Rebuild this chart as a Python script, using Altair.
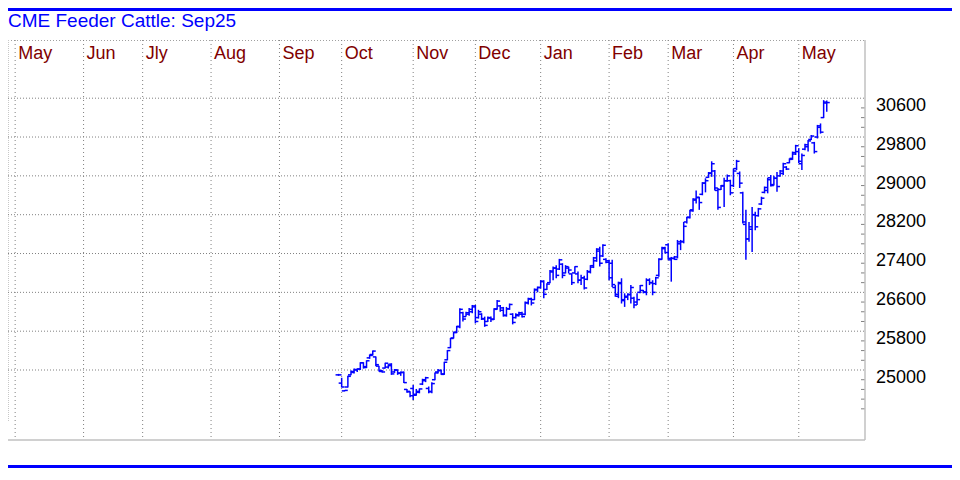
import altair as alt
import pandas as pd

# ---------------- data ----------------
title_text = "CME Feeder Cattle: Sep25"
month_names = ["May", "Jun", "Jly", "Aug", "Sep", "Oct", "Nov", "Dec", "Jan", "Feb", "Mar", "Apr", "May"]
month_start = [0, 22, 41, 63, 85, 105, 128, 148, 169, 191, 210, 231, 252]   # trading-day index
price_levels = [25000, 25800, 26600, 27400, 28200, 29000, 29800, 30600]
minor_levels = [24200, 24400, 24600, 24800, 25200, 25400, 25600, 26000, 26200, 26400,
                26800, 27000, 27200, 27600, 27800, 28000, 28400, 28600, 28800, 29200,
                29400, 29600, 30000, 30200, 30400]
first_day = 104

bar_high = [
    24920, 24840, 24590, 24880, 24990, 25030, 25030, 25160, 25160, 25200,
    25320, 25400, 25280, 25090, 25000, 25150, 25120, 25140, 25020, 25010,
    24970, 24970, 24610, 24560, 24690, 24610, 24620, 24820, 24860, 24660,
    24750, 24950, 25020, 25010, 25170, 25410, 25660, 25790, 25910, 26270,
    26200, 26200, 26280, 26340, 26340, 26240, 26170, 26100, 26100, 26100,
    26270, 26440, 26340, 26300, 26300, 26370, 26170, 26170, 26200, 26200,
    26410, 26490, 26490, 26680, 26720, 26850, 26850, 26790, 27060, 27130,
    27160, 27290, 27200, 27160, 27130, 26990, 27140, 27030, 26960, 26940,
    27060, 27160, 27330, 27510, 27540, 27590, 27300, 27270, 27270, 26750,
    26820, 26890, 26580, 26580, 26750, 26510, 26580, 26750, 26650, 26890,
    26890, 26850, 26920, 27300, 27540, 27540, 27610, 27330, 27350, 27680,
    27680, 28050, 28160, 28300, 28540, 28700, 28570, 28870, 28950, 29080,
    29300, 29120, 28750, 28810, 28960, 29030, 28920, 29150, 29330, 29090,
    28670, 28300, 28050, 28360, 28260, 28340, 28570, 28780, 28960, 29020,
    29000, 29080, 29120, 29270, 29200, 29360, 29500, 29640, 29570, 29460,
    29660, 29740, 29840, 29700, 30050, 30080, 30560, 30550,
]
bar_low = [
    24880, 24640, 24560, 24640, 24890, 24930, 24960, 25000, 25030, 25040,
    25230, 25300, 25080, 24970, 24950, 25030, 25030, 24900, 24940, 24900,
    24880, 24730, 24530, 24440, 24380, 24470, 24520, 24690, 24750, 24520,
    24520, 24790, 24930, 24900, 24900, 25200, 25450, 25650, 25760, 25860,
    26000, 26100, 26120, 26170, 25960, 26060, 26030, 25890, 25990, 25990,
    26030, 26240, 26200, 26100, 26100, 26240, 25940, 26060, 26100, 26080,
    26130, 26350, 26330, 26440, 26600, 26680, 26480, 26650, 26790, 26850,
    26890, 27060, 26890, 26990, 26990, 26750, 26990, 26790, 26750, 26660,
    26850, 26990, 27100, 27230, 27130, 27330, 27200, 26850, 26710, 26510,
    26480, 26370, 26300, 26440, 26370, 26270, 26340, 26580, 26580, 26540,
    26750, 26540, 26750, 26920, 27270, 27400, 27270, 26820, 27270, 27300,
    27470, 27610, 28020, 28120, 28260, 28430, 28300, 28600, 28660, 28960,
    28980, 28700, 28300, 28710, 28360, 28880, 28600, 28770, 29120, 28750,
    28020, 27270, 27640, 27430, 27880, 28160, 28400, 28640, 28640, 28780,
    28800, 28670, 28980, 29020, 29120, 29260, 29330, 29430, 29260, 29120,
    29530, 29500, 29740, 29460, 29770, 29870, 30190, 30320,
]
bar_open = [
    24900, 24730, 24570, 24650, 24900, 24950, 25000, 25020, 25150, 25070,
    25250, 25320, 25270, 25080, 24970, 25040, 25060, 25120, 24960, 25000,
    24930, 24950, 24600, 24550, 24620, 24480, 24540, 24710, 24780, 24620,
    24560, 24800, 24960, 24990, 24920, 25210, 25460, 25660, 25780, 25900,
    26180, 26100, 26150, 26200, 26300, 26080, 26150, 26050, 26000, 26070,
    26050, 26260, 26320, 26280, 26120, 26260, 26150, 26080, 26120, 26150,
    26150, 26380, 26460, 26450, 26650, 26700, 26820, 26660, 26800, 27020,
    27100, 27080, 27180, 27000, 27100, 26980, 27000, 26980, 26850, 26900,
    26870, 27020, 27120, 27250, 27450, 27350, 27280, 27250, 27200, 26700,
    26520, 26800, 26450, 26500, 26550, 26480, 26400, 26600, 26640, 26600,
    26850, 26800, 26780, 26950, 27280, 27520, 27580, 27270, 27300, 27330,
    27600, 27650, 28050, 28150, 28300, 28500, 28550, 28620, 28850, 28970,
    29050, 29100, 28700, 28720, 28800, 28900, 28900, 28800, 29150, 29050,
    28650, 28000, 27700, 27900, 28200, 28180, 28420, 28660, 28700, 28960,
    28820, 28950, 29000, 29050, 29180, 29270, 29360, 29450, 29500, 29250,
    29550, 29600, 29750, 29680, 29800, 30000, 30200, 30500,
]
bar_close = [
    24900, 24650, 24580, 24870, 24970, 25010, 25020, 25150, 25050, 25190,
    25300, 25390, 25110, 24990, 24960, 25140, 25090, 24920, 25000, 24940,
    24950, 24740, 24560, 24470, 24500, 24560, 24610, 24800, 24840, 24550,
    24720, 24940, 24990, 24910, 25160, 25400, 25650, 25770, 25890, 26250,
    26050, 26180, 26250, 26320, 26000, 26200, 26060, 25920, 26080, 26040,
    26250, 26420, 26230, 26130, 26260, 26350, 25980, 26140, 26180, 26100,
    26390, 26470, 26380, 26660, 26700, 26830, 26560, 26770, 27040, 27100,
    26950, 27270, 26950, 27130, 27060, 26800, 27130, 26850, 26900, 26690,
    27030, 27150, 27310, 27490, 27200, 27570, 27220, 26900, 26760, 26560,
    26780, 26430, 26520, 26560, 26700, 26340, 26450, 26740, 26610, 26850,
    26800, 26600, 26900, 27280, 27500, 27420, 27300, 27300, 27280, 27640,
    27640, 27960, 28140, 28280, 28520, 28560, 28450, 28850, 28900, 29060,
    29250, 28750, 28350, 28790, 28900, 29000, 28650, 29100, 29300, 28850,
    28050, 27700, 27950, 28200, 27950, 28320, 28540, 28760, 28920, 28800,
    28950, 28780, 29100, 29250, 29140, 29340, 29480, 29620, 29300, 29420,
    29640, 29720, 29820, 29500, 30030, 29900, 30520, 30510,
]

# ---------------- layout ----------------
BLUE = "#0000ff"
FONT = "Liberation Sans"
W, H = 857, 400
PAD = {"left": 0, "top": 32, "right": 87, "bottom": 28}

xs = alt.Scale(domain=[-2.3, 273.3], nice=False, zero=False)
ys = alt.Scale(domain=[23558, 31799], nice=False, zero=False)

n = len(bar_high)
bars = pd.DataFrame({
    "day": list(range(first_day, first_day + n)),
    "high": bar_high, "low": bar_low, "open": bar_open, "close": bar_close,
})
months = pd.DataFrame({"day": month_start, "name": month_names})
levels = pd.DataFrame({"v": price_levels})
minors = pd.DataFrame({"v": minor_levels})
one = pd.DataFrame({"t": [title_text]})

X = alt.X("day:Q", scale=xs, axis=None)

def Y(f):
    return alt.Y(f, scale=ys, axis=None)

# frame and decorations
top_blue = alt.Chart(one).mark_rule(color=BLUE, strokeWidth=3).encode(
    x=alt.value(0), x2=alt.value(W + PAD["right"]), y=alt.value(-30.5))
bot_blue = alt.Chart(one).mark_rule(color=BLUE, strokeWidth=3).encode(
    x=alt.value(0), x2=alt.value(W + PAD["right"]), y=alt.value(H + PAD["bottom"] - 1.5))
title = alt.Chart(one).mark_text(align="left", baseline="alphabetic", font=FONT,
                                 fontSize=19, color=BLUE).encode(
    x=alt.value(0), y=alt.value(-12.7), text="t:N")
top_border = alt.Chart(one).mark_rule(color="#a0a0a0", strokeDash=[1, 2]).encode(
    x=alt.value(0), x2=alt.value(W), y=alt.value(0.5))
left_border = alt.Chart(one).mark_rule(color="#c8c8c8", strokeDash=[1, 1]).encode(
    x=alt.value(0.5), y=alt.value(0), y2=alt.value(381))
right_border = alt.Chart(one).mark_rule(color="#c0c0c0", strokeWidth=1.5).encode(
    x=alt.value(W), y=alt.value(0), y2=alt.value(H))
bottom_border = alt.Chart(one).mark_rule(color="#c0c0c0", strokeWidth=1.5).encode(
    x=alt.value(0), x2=alt.value(W), y=alt.value(H))

vgrid = alt.Chart(months).mark_rule(color="#808080", strokeDash=[1, 3]).encode(
    x=X, y=alt.value(0), y2=alt.value(H - 3))
mlabels = alt.Chart(months).mark_text(align="left", baseline="alphabetic", dx=3,
                                      font=FONT, fontSize=18, color="#800000").encode(
    x=X, y=alt.value(18.5), text="name:N")
hgrid = alt.Chart(levels).mark_rule(color="#808080", strokeDash=[1, 2]).encode(
    y=Y("v:Q"), x=alt.value(0), x2=alt.value(W))
ylabels = alt.Chart(levels).mark_text(align="left", baseline="alphabetic", dy=12.8,
                                      font=FONT, fontSize=18, color="black").encode(
    y=Y("v:Q"), x=alt.value(W + 11), text=alt.Text("v:Q", format="d"))
minor_ticks = alt.Chart(minors).mark_rule(color="#808080").encode(
    y=Y("v:Q"), x=alt.value(W - 4), x2=alt.value(W))

# OHLC bars
base = alt.Chart(bars)
hl = base.mark_rule(color=BLUE, strokeWidth=1.5).encode(x=X, y=Y("low:Q"), y2="high:Q")
op = base.mark_rule(color=BLUE, strokeWidth=1.5, x2Offset=-3).encode(x=X, x2="day:Q", y=Y("open:Q"))
cl = base.mark_rule(color=BLUE, strokeWidth=1.5, x2Offset=3).encode(x=X, x2="day:Q", y=Y("close:Q"))

chart = alt.layer(
    top_border, left_border, vgrid, hgrid, minor_ticks, right_border, bottom_border,
    mlabels, ylabels, title, top_blue, bot_blue, hl, op, cl,
).properties(
    width=W, height=H,
    autosize=alt.AutoSizeParams(type="none"),
    padding=PAD,
    background="white",
).configure_view(stroke=None)

chart.save("out.html", embed_options={"renderer": "svg", "actions": False})
